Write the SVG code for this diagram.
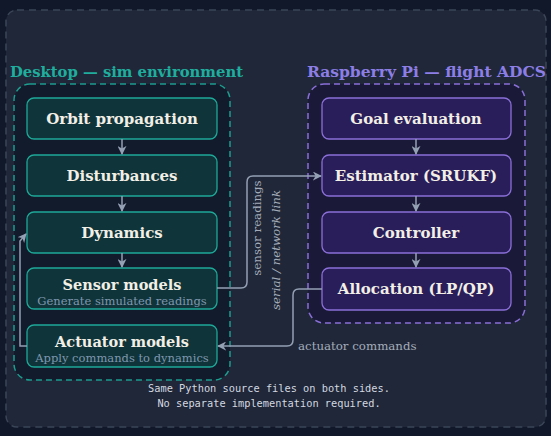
<svg xmlns="http://www.w3.org/2000/svg" width="551" height="436" viewBox="0 0 551 436">
<defs>
<marker id="ah" viewBox="0 0 10 10" refX="9" refY="5" markerWidth="9" markerHeight="9" markerUnits="userSpaceOnUse" orient="auto">
<path d="M0,0 L10,5 L0,10 L3,5 Z" fill="#94a0b4"/>
</marker>
<style>
.ttl{font-family:"DejaVu Serif","Liberation Serif",serif;font-size:15.5px;font-weight:bold}
.nt{font-family:"DejaVu Serif","Liberation Serif",serif;font-size:15px;font-weight:bold;fill:#f2efe6;text-anchor:middle}
.nt2{font-family:"DejaVu Serif","Liberation Serif",serif;font-size:14.5px;font-weight:bold;fill:#f2efe6;text-anchor:middle}
.st{font-family:"DejaVu Serif","Liberation Serif",serif;font-size:11.5px;fill:#7f97b0;text-anchor:middle}
.ln{fill:#0f3439;stroke:#1ea898;stroke-width:1.3}
.rn{fill:#2a1e5a;stroke:#8a6fd8;stroke-width:1.3}
.cn{fill:none;stroke:#94a0b4;stroke-width:1.5}
.lab{font-family:"DejaVu Serif","Liberation Serif",serif;font-size:11.8px;fill:#a4acba}
.mono{font-family:"DejaVu Sans Mono","Liberation Mono",monospace;font-size:10.3px;fill:#d4d8e0;text-anchor:middle}
</style>
</defs>
<rect width="551" height="436" fill="#111829"/>
<rect x="6" y="10" width="540" height="417" rx="11" fill="#1f2738" stroke="#3a4658" stroke-width="1.5" stroke-dasharray="7 5"/>
<text class="ttl" x="10" y="77" fill="#1fae9e" textLength="233" lengthAdjust="spacingAndGlyphs">Desktop — sim environment</text>
<text class="ttl" x="307" y="77" fill="#8d7ee6" textLength="239" lengthAdjust="spacingAndGlyphs">Raspberry Pi — flight ADCS</text>
<rect x="14" y="84" width="216" height="296" rx="16" fill="#111b2c" stroke="#1e9c8e" stroke-width="1.5" stroke-dasharray="6 4"/>
<rect x="308" y="84" width="217" height="239" rx="16" fill="#1a1a38" stroke="#8a6fd8" stroke-width="1.5" stroke-dasharray="6 4"/>
<g id="orbit"><rect class="ln" x="27" y="98" width="190" height="41" rx="7"/><text class="nt" x="122" y="124">Orbit propagation</text></g>
<g id="disturbances"><rect class="ln" x="27" y="155" width="190" height="41" rx="7"/><text class="nt" x="122" y="181">Disturbances</text></g>
<g id="dynamics"><rect class="ln" x="27" y="212" width="190" height="41" rx="7"/><text class="nt" x="122" y="238">Dynamics</text></g>
<g id="sensors"><rect class="ln" x="27" y="268" width="190" height="41" rx="7"/><text class="nt2" x="122" y="289.5">Sensor models</text><text class="st" x="122" y="304.5">Generate simulated readings</text></g>
<g id="actuators"><rect class="ln" x="27" y="325" width="190" height="42" rx="7"/><text class="nt2" x="122" y="346.5">Actuator models</text><text class="st" x="122" y="361.5">Apply commands to dynamics</text></g>
<g id="goal"><rect class="rn" x="322" y="98" width="189" height="41" rx="7"/><text class="nt" x="416" y="124">Goal evaluation</text></g>
<g id="estimator"><rect class="rn" x="322" y="155" width="189" height="41" rx="7"/><text class="nt" x="416" y="181">Estimator (SRUKF)</text></g>
<g id="controller"><rect class="rn" x="322" y="212" width="189" height="41" rx="7"/><text class="nt" x="416" y="238">Controller</text></g>
<g id="allocation"><rect class="rn" x="322" y="268" width="189" height="42" rx="7"/><text class="nt" x="416" y="294">Allocation (LP/QP)</text></g>
<g id="connectors">
<path class="cn" d="M122,139 V154" marker-end="url(#ah)"/>
<path class="cn" d="M122,196 V211" marker-end="url(#ah)"/>
<path class="cn" d="M122,253 V267" marker-end="url(#ah)"/>
<path class="cn" d="M416,139 V154" marker-end="url(#ah)"/>
<path class="cn" d="M416,196 V211" marker-end="url(#ah)"/>
<path class="cn" d="M416,253 V267" marker-end="url(#ah)"/>
<path class="cn" d="M27,346 H20 V241 L26,234" marker-end="url(#ah)"/>
<path class="cn" d="M217,288 H241 Q247,288 247,282 V182 Q247,176 253,176 H321" marker-end="url(#ah)"/>
<path class="cn" d="M322,289 H299 Q293,289 293,295 V340 Q293,346 287,346 H218" marker-end="url(#ah)"/>
<text class="lab" transform="translate(261,228) rotate(-90)" text-anchor="middle">sensor readings</text>
<text class="lab" transform="translate(280,250) rotate(-90)" text-anchor="middle" font-style="italic">serial / network link</text>
<text class="lab" x="298" y="350">actuator commands</text>
</g>
<text class="mono" x="269" y="392">Same Python source files on both sides.</text>
<text class="mono" x="269" y="407">No separate implementation required.</text>
</svg>
